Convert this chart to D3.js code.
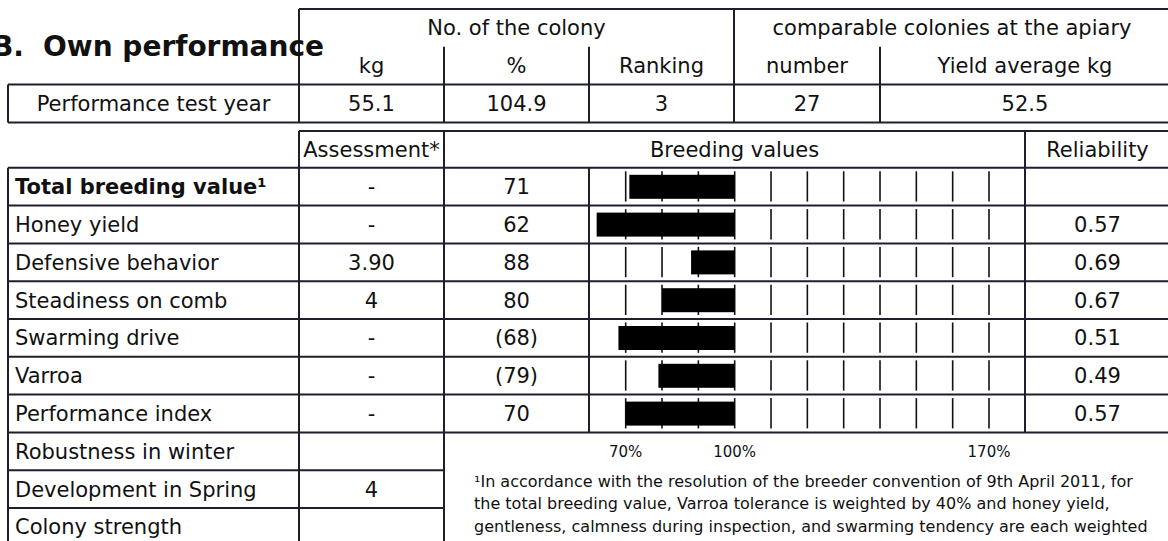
<!DOCTYPE html>
<html>
<head>
<meta charset="utf-8">
<script src="https://cdn.jsdelivr.net/npm/d3@7"></script>
<style>
  body { margin: 0; background: #fff; overflow: hidden; }
  text { font-family: "DejaVu Sans", sans-serif; fill: #111; }
</style>
</head>
<body>
<div id="chart"></div>
<script>
// top table
const colonyHeaders = ['kg', '%', 'Ranking'];
const apiaryHeaders = ['number', 'Yield average kg'];
const perfLabel = 'Performance test year';
const perfValues = ['55.1', '104.9', '3', '27', '52.5'];

// breeding values
const traits = ['Total breeding value¹', 'Honey yield', 'Defensive behavior', 'Steadiness on comb',
  'Swarming drive', 'Varroa', 'Performance index'];
const assessments = ['-', '-', '3.90', '4', '-', '-', '-'];
const breedingValues = [71, 62, 88, 80, 68, 79, 70];
const provisional = [false, false, false, false, true, true, false];
const reliability = ['', '0.57', '0.69', '0.67', '0.51', '0.49', '0.57'];

const otherTraits = ['Robustness in winter', 'Development in Spring', 'Colony strength'];
const otherAssessments = ['', '4', ''];

const gridTicks = [70, 80, 90, 100, 110, 120, 130, 140, 150, 160, 170];
const tickLabels = [70, 100, 170];

const footnote = [
  '¹In accordance with the resolution of the breeder convention of 9th April 2011, for',
  'the total breeding value, Varroa tolerance is weighted by 40% and honey yield,',
  'gentleness, calmness during inspection, and swarming tendency are each weighted'
];

const width = 1168;
const height = 541;
const lineColor = '#1e1e2c';
const rowH = 37.8;
const colX = [8, 299, 444, 589, 734, 880, 1025, 1170];

const svg = d3.select('#chart').append('svg')
  .attr('width', width)
  .attr('height', height);

const lines = svg.append('g').attr('stroke', lineColor).attr('stroke-width', 2);
const hline = (x1, x2, y) => lines.append('line').attr('x1', x1).attr('x2', x2).attr('y1', y).attr('y2', y);
const vline = (x, y1, y2) => lines.append('line').attr('x1', x).attr('x2', x).attr('y1', y1).attr('y2', y2);

const label = (txt, x, y, anchor, size, weight) => svg.append('text')
  .attr('x', x)
  .attr('y', y)
  .attr('dy', '0.36em')
  .attr('text-anchor', anchor || 'middle')
  .attr('font-size', size || 21)
  .attr('font-weight', weight || 'normal')
  .text(txt);

// title (its section letter runs off the left edge, as in the report)
const title = svg.append('text')
  .attr('y', 56)
  .attr('font-size', 28)
  .attr('font-weight', 'bold');
title.append('tspan').attr('x', -8).text('B.');
title.append('tspan').attr('x', 43).text('Own performance');

// ---- top table
const t0 = 9;
const tRows = [t0, t0 + rowH, t0 + 2 * rowH, t0 + 3 * rowH];
hline(colX[1], colX[7], tRows[0]);
hline(colX[0], colX[7], tRows[2]);
hline(colX[0], colX[7], tRows[3]);
vline(colX[0], tRows[2], tRows[3]);
vline(colX[1], tRows[0], tRows[3]);
vline(colX[4], tRows[0], tRows[3]);
[colX[2], colX[3], colX[5]].forEach(x => vline(x, tRows[1], tRows[3]));

const mid = (a, b) => (a + b) / 2;
label('No. of the colony', mid(colX[1], colX[4]), mid(tRows[0], tRows[1]));
label('comparable colonies at the apiary', mid(colX[4], colX[7]), mid(tRows[0], tRows[1]));
const subCols = [[colX[1], colX[2]], [colX[2], colX[3]], [colX[3], colX[4]], [colX[4], colX[5]], [colX[5], colX[7]]];
colonyHeaders.concat(apiaryHeaders).forEach((h, i) => label(h, mid(subCols[i][0], subCols[i][1]), mid(tRows[1], tRows[2])));
label(perfLabel, mid(colX[0], colX[1]), mid(tRows[2], tRows[3]));
perfValues.forEach((v, i) => label(v, mid(subCols[i][0], subCols[i][1]), mid(tRows[2], tRows[3])));

// ---- breeding value table
const h0 = 131;
const b0 = h0 + rowH - 1;
const nRows = traits.length + otherTraits.length;
const rowY = i => b0 + i * rowH;
const chartBottom = rowY(traits.length);

hline(colX[1], colX[7], h0);
for (let i = 0; i <= traits.length; i++) hline(colX[0], colX[7], rowY(i));
for (let i = traits.length + 1; i < nRows + 1; i++) hline(colX[0], colX[2], rowY(i));
vline(colX[0], b0, height + 10);
vline(colX[1], h0, height + 10);
vline(colX[2], h0, height + 10);
vline(colX[3], b0, chartBottom);
vline(colX[6], h0, chartBottom);

label('Assessment*', mid(colX[1], colX[2]), mid(h0, b0));
label('Breeding values', mid(colX[2], colX[6]), mid(h0, b0));
label('Reliability', mid(colX[6], colX[7]), mid(h0, b0));

const x = d3.scaleLinear().domain([70, 170]).range([625.7, 989]);

traits.forEach((t, i) => {
  const cy = mid(rowY(i), rowY(i + 1));
  label(t, 15, cy, 'start', 21, i === 0 ? 'bold' : 'normal');
  label(assessments[i], mid(colX[1], colX[2]), cy);
  label(provisional[i] ? '(' + breedingValues[i] + ')' : String(breedingValues[i]), mid(colX[2], colX[3]), cy);
  label(reliability[i], mid(colX[6], colX[7]), cy);
});

// grid ticks inside each bar row
const grid = svg.append('g').attr('stroke', '#111').attr('stroke-width', 1.6);
traits.forEach((t, i) => {
  grid.selectAll(null)
    .data(gridTicks)
    .enter().append('line')
    .attr('x1', d => x(d))
    .attr('x2', d => x(d))
    .attr('y1', rowY(i) + 3.5)
    .attr('y2', rowY(i + 1) - 4);
});

// bars start at 100%
svg.append('g').selectAll('rect')
  .data(breedingValues)
  .enter().append('rect')
  .attr('x', d => x(Math.min(d, 100)))
  .attr('width', d => Math.abs(x(d) - x(100)))
  .attr('y', (d, i) => rowY(i) + 7)
  .attr('height', 24)
  .attr('fill', '#000');

otherTraits.forEach((t, i) => {
  const cy = mid(rowY(traits.length + i), rowY(traits.length + i + 1));
  label(t, 15, cy, 'start');
  label(otherAssessments[i], mid(colX[1], colX[2]), cy);
});

tickLabels.forEach(v => {
  label(v + '%', x(v), chartBottom + 19.5, 'middle', 15);
});

footnote.forEach((f, i) => {
  svg.append('text')
    .attr('x', 474)
    .attr('y', 487 + i * 22.3)
    .attr('font-size', 16)
    .text(f);
});
</script>
</body>
</html>
